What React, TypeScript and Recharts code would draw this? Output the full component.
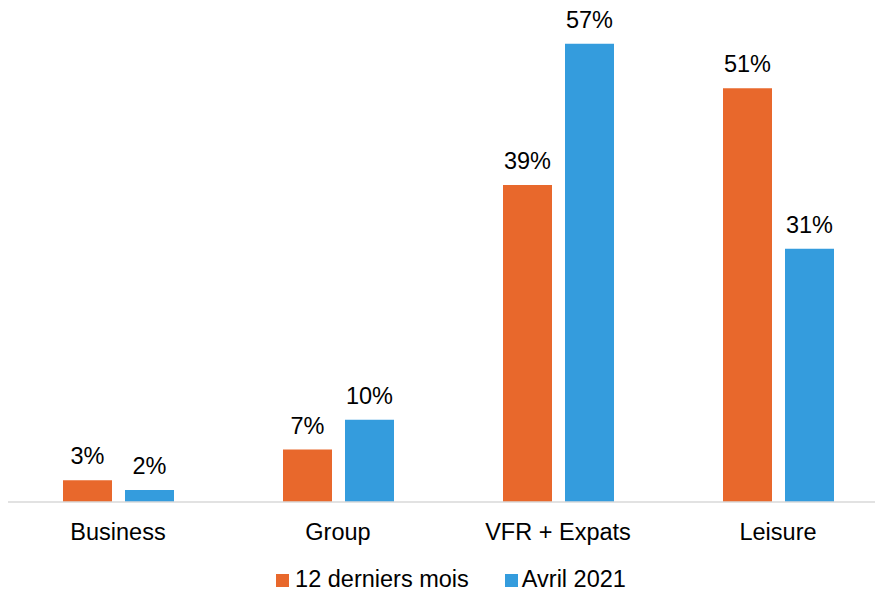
import React from "react";
import { BarChart, Bar, XAxis, YAxis, Legend, LabelList } from "recharts";

const categories = ["Business", "Group", "VFR + Expats", "Leisure"];
const douzeMois = [2.7, 6.5, 39.3, 51.3];
const avril2021 = [1.5, 10.2, 56.8, 31.4];

const seriesNames = { douze: "12 derniers mois", avril: "Avril 2021" };
const ORANGE = "#E8682C";
const BLUE = "#349CDD";
const FONT = "'Liberation Sans', Arial, sans-serif";

const data = categories.map((name, i) => ({
  name,
  douze: douzeMois[i],
  avril: avril2021[i],
}));

const pct = (v: any) => `${Math.round(Number(v))}%`;

const LegendContent = () => (
  <div
    style={{
      display: "flex",
      justifyContent: "center",
      alignItems: "center",
      fontFamily: FONT,
      fontSize: 23.5,
      lineHeight: 1,
      color: "#000",
      paddingLeft: 6,
      height: 24,
    }}
  >
    <span style={{ width: 13, height: 13, background: ORANGE, marginRight: 6 }} />
    <span style={{ marginRight: 36 }}>{seriesNames.douze}</span>
    <span style={{ width: 13, height: 13, background: BLUE, marginRight: 4 }} />
    <span>{seriesNames.avril}</span>
  </div>
);

const App = () => {
  return (
    <div
      style={{
        position: "fixed",
        left: 0,
        top: 0,
        width: 875,
        height: 592,
        overflow: "hidden",
        background: "#fff",
      }}
    >
      <BarChart
        width={888}
        height={592}
        data={data}
        margin={{ top: 18, right: 0, left: 8, bottom: 50 }}
        barSize={49}
        barGap={13}
      >
        <XAxis
          dataKey="name"
          height={40}
          tickLine={false}
          axisLine={{ stroke: "#D9D9D9", strokeWidth: 1.5 }}
          tick={{ fill: "#000", fontSize: 23.5, fontFamily: FONT }}
          tickMargin={15}
          interval={0}
        />
        <YAxis hide domain={[0, 60]} />
        <Legend
          verticalAlign="middle"
          align="center"
          content={<LegendContent />}
          wrapperStyle={{ top: 568 }}
        />
        <Bar dataKey="douze" name={seriesNames.douze} fill={ORANGE} isAnimationActive={false}>
          <LabelList
            dataKey="douze"
            position="top"
            offset={16}
            formatter={pct}
            style={{ fill: "#000", fontSize: 23.5, fontFamily: FONT }}
          />
        </Bar>
        <Bar dataKey="avril" name={seriesNames.avril} fill={BLUE} isAnimationActive={false}>
          <LabelList
            dataKey="avril"
            position="top"
            offset={16}
            formatter={pct}
            style={{ fill: "#000", fontSize: 23.5, fontFamily: FONT }}
          />
        </Bar>
      </BarChart>
    </div>
  );
};

export default App;
